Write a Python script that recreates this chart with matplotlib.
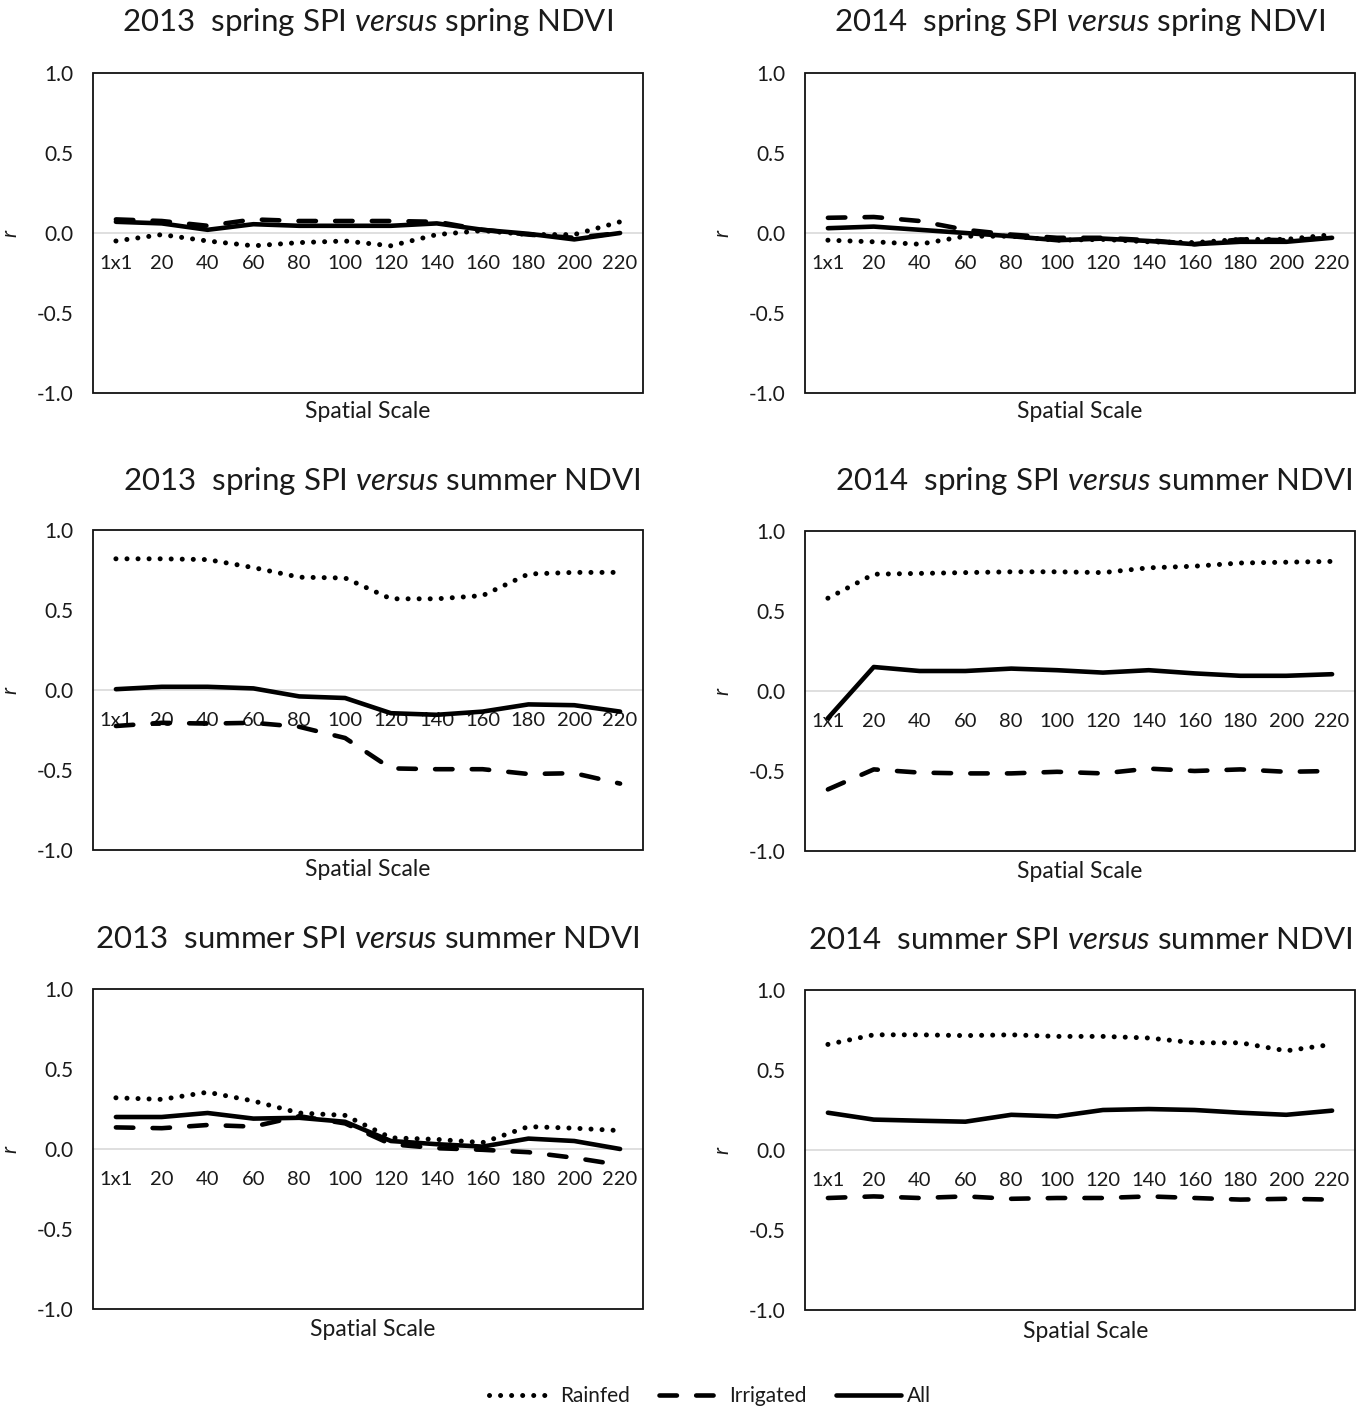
import matplotlib
matplotlib.use("Agg")
import matplotlib.pyplot as plt
from matplotlib.patches import Rectangle
from matplotlib.lines import Line2D

plt.rcParams['font.family'] = ['Lato', 'DejaVu Sans']
plt.rcParams['mathtext.fontset'] = 'custom'
plt.rcParams['mathtext.rm'] = 'Lato'
plt.rcParams['mathtext.it'] = 'Lato:italic'

# Spatial scale categories (aggregation window)
scales = ['1x1', '20', '40', '60', '80', '100', '120', '140', '160', '180', '200', '220']

# 2013 spring SPI vs spring NDVI
rainfed_2013_sp_sp = [-0.05, -0.01, -0.05, -0.08, -0.06, -0.05, -0.08, -0.01, 0.015, -0.01, -0.01, 0.07]
irrigated_2013_sp_sp = [0.085, 0.075, 0.045, 0.085, 0.075, 0.075, 0.075, 0.07, 0.02, -0.01, -0.03, 0.0]
all_2013_sp_sp = [0.07, 0.06, 0.02, 0.055, 0.045, 0.045, 0.045, 0.06, 0.02, -0.005, -0.04, 0.0]

# 2014 spring SPI vs spring NDVI
rainfed_2014_sp_sp = [-0.045, -0.055, -0.07, -0.02, -0.02, -0.045, -0.04, -0.055, -0.06, -0.04, -0.04, -0.01]
irrigated_2014_sp_sp = [0.095, 0.1, 0.075, 0.02, -0.01, -0.03, -0.03, -0.045, -0.07, -0.04, -0.045, -0.03]
all_2014_sp_sp = [0.03, 0.04, 0.02, 0.0, -0.02, -0.045, -0.035, -0.05, -0.07, -0.055, -0.055, -0.03]

# 2013 spring SPI vs summer NDVI
rainfed_2013_sp_su = [0.82, 0.82, 0.815, 0.765, 0.705, 0.70, 0.57, 0.57, 0.59, 0.725, 0.735, 0.735]
irrigated_2013_sp_su = [-0.225, -0.205, -0.21, -0.205, -0.23, -0.30, -0.49, -0.495, -0.495, -0.525, -0.52, -0.585]
all_2013_sp_su = [0.005, 0.02, 0.02, 0.01, -0.04, -0.05, -0.145, -0.155, -0.135, -0.09, -0.095, -0.135]

# 2014 spring SPI vs summer NDVI
rainfed_2014_sp_su = [0.58, 0.73, 0.735, 0.74, 0.745, 0.745, 0.74, 0.77, 0.78, 0.80, 0.805, 0.81]
irrigated_2014_sp_su = [-0.615, -0.49, -0.51, -0.515, -0.515, -0.505, -0.515, -0.485, -0.50, -0.49, -0.505, -0.50]
all_2014_sp_su = [-0.17, 0.15, 0.125, 0.125, 0.14, 0.13, 0.115, 0.13, 0.11, 0.095, 0.095, 0.105]

# 2013 summer SPI vs summer NDVI
rainfed_2013_su_su = [0.32, 0.31, 0.355, 0.30, 0.225, 0.21, 0.07, 0.06, 0.04, 0.14, 0.13, 0.115]
irrigated_2013_su_su = [0.135, 0.13, 0.15, 0.14, 0.205, 0.16, 0.03, 0.005, -0.005, -0.02, -0.055, -0.10]
all_2013_su_su = [0.20, 0.20, 0.225, 0.19, 0.195, 0.17, 0.05, 0.03, 0.015, 0.065, 0.05, 0.0]

# 2014 summer SPI vs summer NDVI
rainfed_2014_su_su = [0.66, 0.72, 0.72, 0.715, 0.72, 0.71, 0.71, 0.70, 0.67, 0.67, 0.62, 0.66]
irrigated_2014_su_su = [-0.30, -0.29, -0.30, -0.29, -0.305, -0.30, -0.30, -0.29, -0.30, -0.31, -0.305, -0.31]
all_2014_su_su = [0.233, 0.19, 0.183, 0.177, 0.22, 0.21, 0.25, 0.256, 0.25, 0.233, 0.22, 0.246]

titles = [
    r'2013  spring SPI $\mathit{versus}$ spring NDVI',
    r'2014  spring SPI $\mathit{versus}$ spring NDVI',
    r'2013  spring SPI $\mathit{versus}$ summer NDVI',
    r'2014  spring SPI $\mathit{versus}$ summer NDVI',
    r'2013  summer SPI $\mathit{versus}$ summer NDVI',
    r'2014  summer SPI $\mathit{versus}$ summer NDVI',
]
panels = [
    (rainfed_2013_sp_sp, irrigated_2013_sp_sp, all_2013_sp_sp),
    (rainfed_2014_sp_sp, irrigated_2014_sp_sp, all_2014_sp_sp),
    (rainfed_2013_sp_su, irrigated_2013_sp_su, all_2013_sp_su),
    (rainfed_2014_sp_su, irrigated_2014_sp_su, all_2014_sp_su),
    (rainfed_2013_su_su, irrigated_2013_su_su, all_2013_su_su),
    (rainfed_2014_su_su, irrigated_2014_su_su, all_2014_su_su),
]
series_names = ['Rainfed', 'Irrigated', 'All']

# Layout in pixels: plot-box left/top, title centre, x-label centre
W, H = 1370, 1408
box_w, box_h = 550, 320
layout = [
    # left, top, title_x, title_y, xlab_x, xlab_y
    (93, 73, 367, 22, 368, 412),
    (805, 73, 1080, 22, 1080, 412),
    (93, 530, 382, 481, 368, 870),
    (805, 531, 1094, 481, 1080, 871),
    (93, 989, 367, 939, 373, 1330),
    (805, 990, 1080, 940, 1086, 1331),
]

styles = [
    dict(linestyle=(0, (0.01, 2.2)), dash_capstyle='round', lw=3.6),
    dict(linestyle=(0, (3.8, 4.2)), dash_capstyle='round', lw=3.3),
    dict(linestyle='-', solid_capstyle='round', lw=3.3),
]
text_color = '#1a1a1a'

fig = plt.figure(figsize=(W / 100, H / 100), dpi=100)
x = list(range(len(scales)))

for (left, top, tx, ty, lx, ly), title, data in zip(layout, titles, panels):
    ax = fig.add_axes([left / W, 1 - (top + box_h) / H, box_w / W, box_h / H])
    for vals, st in zip(data, styles):
        ax.plot(x, vals, color='black', zorder=3, **st)
    ax.set_xlim(-0.5, len(scales) - 0.5)
    ax.set_ylim(-1.0, 1.0)
    ax.set_yticks([-1.0, -0.5, 0.0, 0.5, 1.0])
    ax.set_yticklabels(['-1.0', '-0.5', '0.0', '0.5', '1.0'])
    ax.set_xticks(x)
    ax.set_xticklabels(scales)
    # horizontal axis crosses at r = 0
    ax.spines['bottom'].set_position(('data', 0))
    ax.spines['bottom'].set_color('#d9d9d9')
    ax.spines['bottom'].set_linewidth(1.2)
    for s in ['top', 'left', 'right']:
        ax.spines[s].set_visible(False)
    ax.add_patch(Rectangle((0, 0), 1, 1, transform=ax.transAxes, fill=False,
                           edgecolor='#111111', lw=1.3, zorder=4, clip_on=False))
    ax.tick_params(axis='x', length=0, pad=16, labelsize=14.5, labelcolor=text_color)
    ax.tick_params(axis='y', length=0, pad=14, labelsize=15, labelcolor=text_color)
    ax.set_ylabel('r', style='italic', fontsize=15, labelpad=12, color=text_color)
    fig.text(tx / W, 1 - ty / H, title, ha='center', va='center', fontsize=22.5, color=text_color)
    fig.text(lx / W, 1 - ly / H, 'Spatial Scale', ha='center', va='center', fontsize=16.5, color=text_color)

handles = [Line2D([], [], color='black', **st) for st in styles]
fig.legend(handles, series_names, loc='center', bbox_to_anchor=(710 / W, 1 - 1396 / H),
           ncol=3, frameon=False, handlelength=3.1, columnspacing=1.4, handletextpad=0.3,
           fontsize=15, labelcolor=text_color)

fig.savefig('out.png', dpi=100)
